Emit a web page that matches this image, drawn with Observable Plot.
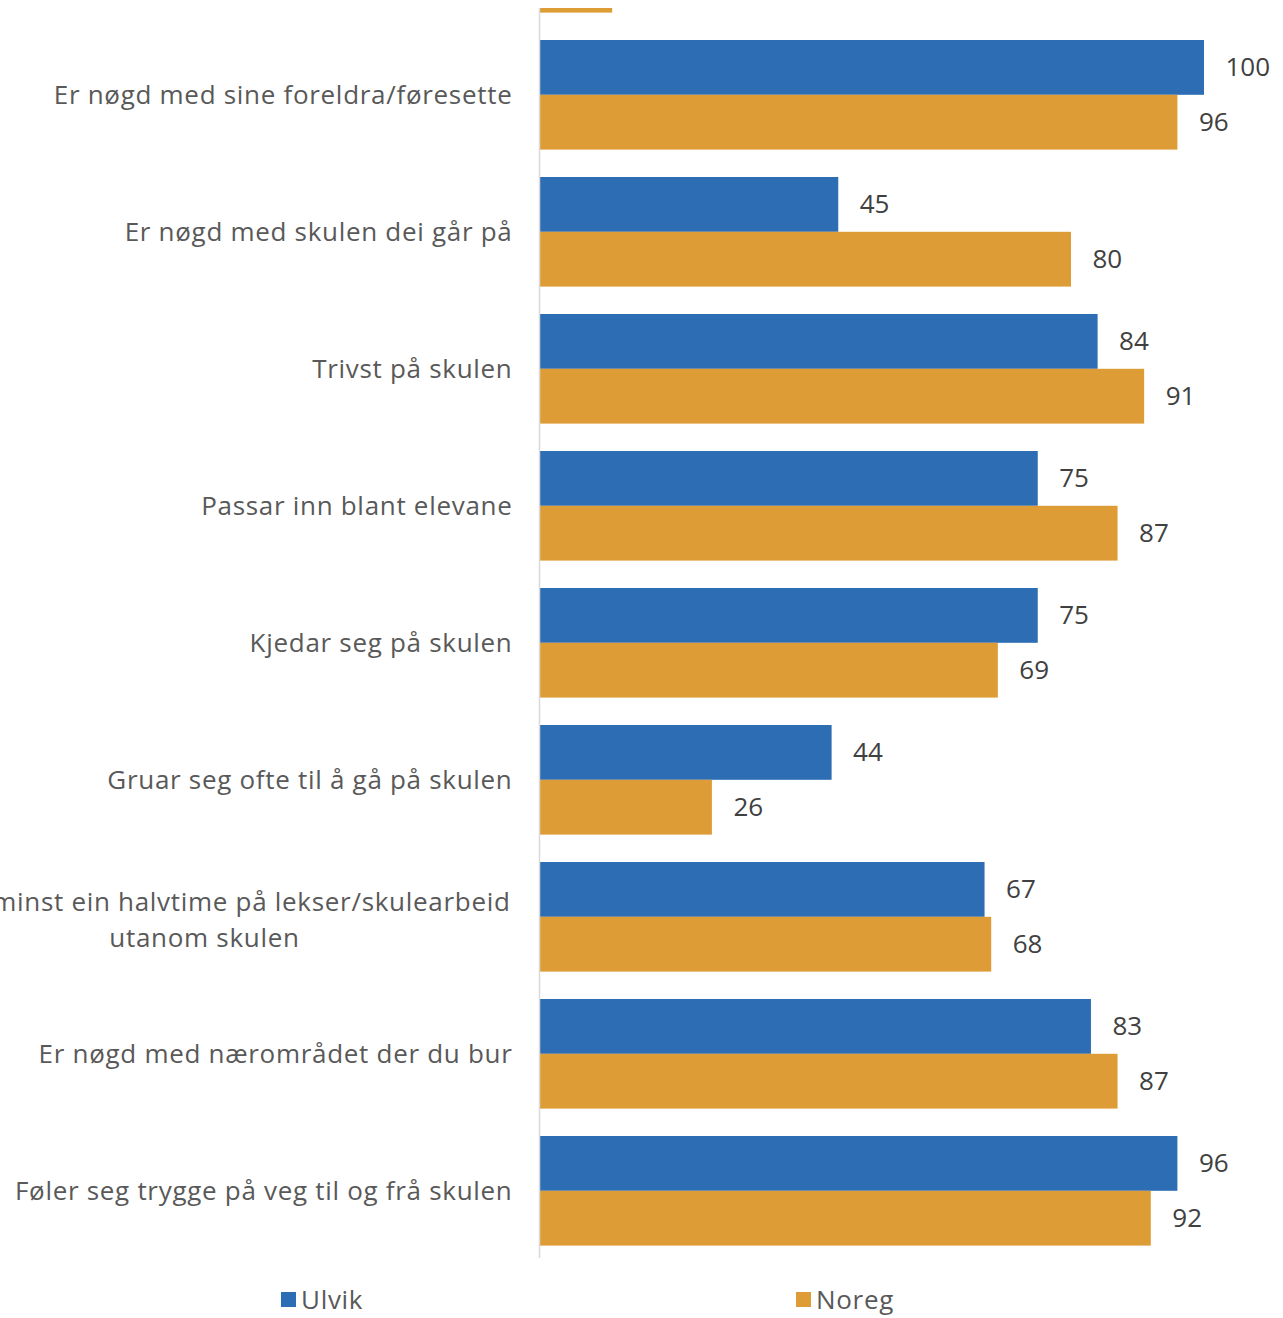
<!DOCTYPE html>
<html>
<head>
<meta charset="utf-8">
<script src="https://cdn.jsdelivr.net/npm/d3@7"></script>
<script src="https://cdn.jsdelivr.net/npm/@observablehq/plot@0.6"></script>
<style>
  html, body { margin: 0; padding: 0; background: #fff; }
  #wrap { position: relative; width: 1283px; height: 1318px; overflow: hidden; font-family: "Open Sans", sans-serif; }
  #legend { position: absolute; top: 1281px; left: 0; width: 1283px; height: 34px; }
  .item { position: absolute; top: 0; display: flex; align-items: center; font-size: 26px; color: #595959; letter-spacing: 0.7px; }
  .sw { width: 15px; height: 15px; margin-right: 5px; }
  #chart g[fill="#595959"] text { letter-spacing: 0.7px; }
</style>
</head>
<body>
<div id="wrap">
  <div id="chart"></div>
  <div id="legend"></div>
</div>
<script>
const categories = [
  "(forrige)",
  "Er nøgd med sine foreldra/føresette",
  "Er nøgd med skulen dei går på",
  "Trivst på skulen",
  "Passar inn blant elevane",
  "Kjedar seg på skulen",
  "Gruar seg ofte til å gå på skulen",
  "Brukar minst ein halvtime på lekser/skulearbeid\nutanom skulen",
  "Er nøgd med nærområdet der du bur",
  "Føler seg trygge på veg til og frå skulen"
];
const series = ["Ulvik", "Noreg"];
const ulvik = [null, 100, 45, 84, 75, 75, 44, 67, 83, 96];
const noreg = [11, 96, 80, 91, 87, 69, 26, 68, 87, 92];
const colors = ["#2C6DB4", "#DD9C36"];

const rows = [];
categories.forEach((c, i) => {
  if (ulvik[i] != null) rows.push({cat: c, series: "Ulvik", value: ulvik[i], first: i === 0});
  if (noreg[i] != null) rows.push({cat: c, series: "Noreg", value: noreg[i], first: i === 0});
});
const blue = rows.filter(d => d.series === "Ulvik");
const orange = rows.filter(d => d.series === "Noreg");
const blueLabels = blue.filter(d => !d.first);
const orangeLabels = orange.filter(d => !d.first);
const labelRows = categories.slice(1).map(c => ({cat: c}));
const single = labelRows.filter(d => !d.cat.includes("\n"));
const multi = labelRows.filter(d => d.cat.includes("\n"));

const half = 54.8;
const chart = Plot.plot({
  width: 1283,
  height: 1258,
  marginLeft: 539,
  marginRight: 0,
  marginTop: 8,
  marginBottom: 0,
  style: {fontFamily: "'Open Sans', sans-serif", background: "#fff"},
  x: {domain: [0, 100], range: [539, 1204], axis: null},
  y: {domain: categories, range: [-97, 1245.6], paddingInner: 0.2, paddingOuter: 0, round: false, axis: null},
  color: {domain: series, range: colors},
  marks: [
    Plot.barX(blue, {x: "value", y: "cat", fill: "#2C6DB4", insetBottom: half, clip: true}),
    Plot.barX(orange, {x: "value", y: "cat", fill: "#DD9C36", insetTop: half, clip: true}),
    Plot.ruleX([0], {stroke: "#d9d9d9", strokeWidth: 1.5}),
    Plot.text(blueLabels, {x: "value", y: "cat", text: d => String(d.value), dy: -27.4, dx: 21, textAnchor: "start", fontSize: 26, fill: "#404040"}),
    Plot.text(orangeLabels, {x: "value", y: "cat", text: d => String(d.value), dy: 27.4, dx: 21, textAnchor: "start", fontSize: 26, fill: "#404040"}),
    Plot.text(single, {y: "cat", text: "cat", frameAnchor: "left", textAnchor: "end", dx: -27, fontSize: 26, fill: "#595959"}),
    Plot.text(multi, {y: "cat", text: "cat", frameAnchor: "left", textAnchor: "middle", dx: -335, lineHeight: 1.38, fontSize: 26, fill: "#595959"})
  ]
});
document.getElementById("chart").appendChild(chart);

const legend = document.getElementById("legend");
const legendX = [281, 796];
series.forEach((s, i) => {
  const item = document.createElement("div");
  item.className = "item";
  item.style.left = legendX[i] + "px";
  item.innerHTML = `<span class="sw" style="background:${colors[i]}"></span><span>${s}</span>`;
  legend.appendChild(item);
});
</script>
</body>
</html>
